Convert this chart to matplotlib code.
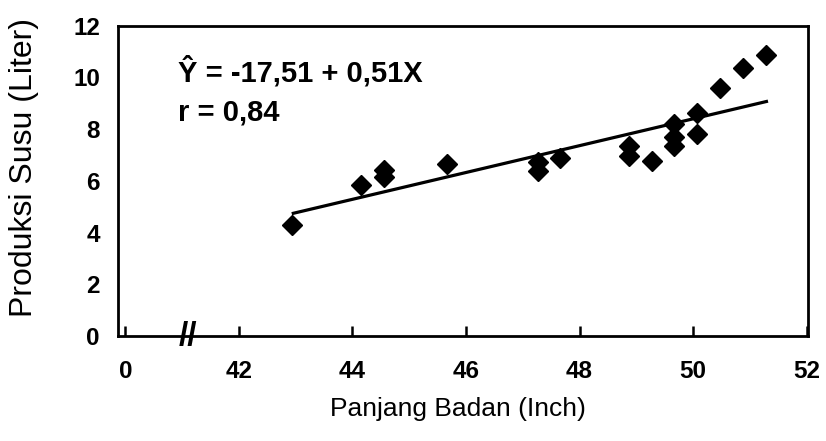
import matplotlib
matplotlib.use("Agg")
import matplotlib.pyplot as plt

# ---- data ----
panjang_badan = [42.93, 44.15, 44.55, 44.55, 45.66, 47.27, 47.27, 47.65, 48.87, 48.87,
                 49.27, 49.67, 49.67, 49.67, 50.07, 50.07, 50.47, 50.88, 51.28]
produksi_susu = [4.28, 5.85, 6.40, 6.15, 6.66, 6.71, 6.39, 6.88, 7.34, 6.95,
                 6.77, 8.20, 7.68, 7.36, 8.63, 7.82, 9.57, 10.36, 10.88]
fit_x = [42.93, 51.32]
fit_y = [4.73, 9.08]
x_ticks = [40, 42, 44, 46, 48, 50, 52]
x_tick_labels = ["0", "42", "44", "46", "48", "50", "52"]
y_ticks = [0, 2, 4, 6, 8, 10, 12]
y_tick_labels = ["0", "2", "4", "6", "8", "10", "12"]
equation_text = "Ŷ = -17,51 + 0,51X"
r_text = "r = 0,84"
break_x = 41.1

plt.rcParams['font.family'] = ['Liberation Sans', 'DejaVu Sans']

fig = plt.figure(figsize=(8.26, 4.41), dpi=100)
ax = fig.add_axes([0.1429, 0.238, 0.835, 0.704])

ax.plot(fit_x, fit_y, color="black", lw=2.3, solid_capstyle="butt", zorder=2)
ax.plot(panjang_badan, produksi_susu, linestyle="none", marker="D",
        markersize=10, color="black", zorder=3)

ax.set_xlim(39.87, 52.02)
ax.set_ylim(0, 12)
ax.set_xticks(x_ticks)
ax.set_xticklabels(x_tick_labels, fontsize=17.5, fontweight="bold")
ax.set_yticks(y_ticks)
ax.set_yticklabels(y_tick_labels, fontsize=17.5, fontweight="bold")
ax.tick_params(axis="x", direction="in", length=7, width=1.8, pad=17)
ax.tick_params(axis="y", length=0, pad=13)

for s in ax.spines.values():
    s.set_linewidth(2)
    s.set_color("black")

ax.set_xlabel("Panjang Badan (Inch)", fontsize=19)
ax.xaxis.set_label_coords(0.493, -0.195)
ax.set_ylabel("Produksi Susu (Liter)", fontsize=23)
ax.yaxis.set_label_coords(-0.114, 0.543)

ax.text(0.087, 0.850, equation_text, transform=ax.transAxes, fontsize=21,
        fontweight="bold", va="center", ha="left")
ax.text(0.087, 0.721, r_text, transform=ax.transAxes, fontsize=21,
        fontweight="bold", va="center", ha="left")

# axis break marker
ax.text(break_x, 0, "//", fontsize=24, fontweight="bold", ha="center", va="center",
        clip_on=False, zorder=5)

fig.savefig("out.png", dpi=100)
